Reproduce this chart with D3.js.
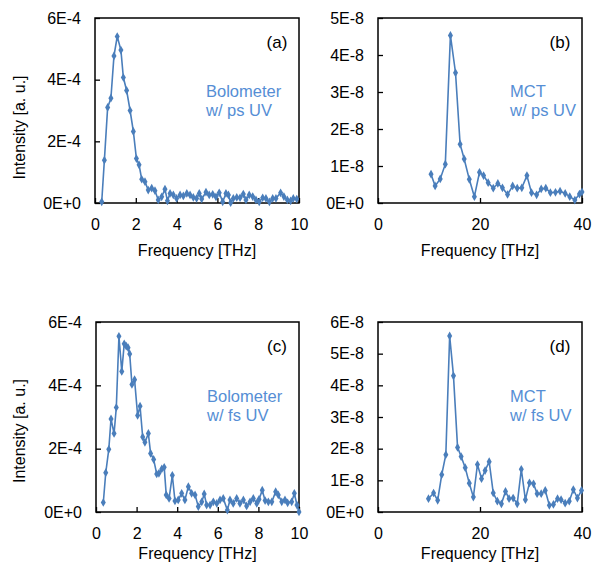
<!DOCTYPE html>
<html>
<head>
<meta charset="utf-8">
<script src="https://cdn.jsdelivr.net/npm/d3@7/dist/d3.min.js"></script>
<style>
  body { margin: 0; background: #fff; }
  svg { display: block; font-family: "Liberation Sans", Arial, sans-serif; }
</style>
</head>
<body>
<div class="canvas"></div>
<script>
// (a) Bolometer w/ ps UV
const freqA = [0.33, 0.46, 0.62, 0.78, 0.93, 1.09, 1.27, 1.39, 1.55, 1.72, 1.88, 2.03, 2.16, 2.29, 2.45, 2.61,
  2.78, 2.94, 3.10, 3.27, 3.43, 3.55, 3.68, 3.84, 4.00, 4.17, 4.33, 4.50, 4.66, 4.82, 4.98, 5.11, 5.23,
  5.44, 5.60, 5.77, 5.93, 6.09, 6.26, 6.42, 6.54, 6.65, 6.78, 6.95, 7.11, 7.27, 7.40, 7.56, 7.73, 7.89,
  8.05, 8.22, 8.38, 8.55, 8.71, 8.87, 9.10, 9.26, 9.43, 9.59, 9.72, 9.89]
const intA = [4e-6, 1.39e-4, 3.10e-4, 3.40e-4, 4.77e-4, 5.40e-4, 4.96e-4, 4.07e-4, 3.65e-4, 3.00e-4, 2.32e-4, 1.44e-4,
  1.24e-4, 7.7e-5, 6.9e-5, 4.2e-5, 4.8e-5, 4.0e-5, 1.0e-5, 2.0e-5, 4.5e-5, 7e-6, 3.1e-5, 2.6e-5, 1.5e-5,
  2.6e-5, 2.3e-5, 3.1e-5, 2.6e-5, 1.8e-5, 1.5e-5, 3.1e-5, 1.3e-5, 3.5e-5, 2.6e-5, 2.8e-5, 2.0e-5, 3.3e-5,
  4e-6, 3.1e-5, 2.6e-5, 1e-6, 1.5e-5, 1.8e-5, 1.7e-5, 2.9e-5, 1.0e-5, 2.6e-5, 2.1e-5, 1.0e-5, 4e-6,
  1.7e-5, 1.5e-5, 4e-6, 1.5e-5, 1.5e-5, 3.3e-5, 2.1e-5, 1.0e-5, 7e-6, 1.5e-5, 1.3e-5]

// (b) MCT w/ ps UV
const freqB = [10.4, 11.2, 12.2, 13.2, 14.2, 15.2, 16.1, 16.9, 17.9, 18.9, 19.9, 20.7, 21.6, 22.6, 23.5, 24.4,
  25.4, 26.4, 27.3, 28.2, 29.2, 30.1, 31.1, 32.0, 32.9, 33.8, 34.8, 35.7, 36.7, 37.6, 38.6, 39.5, 40.0]
const intB = [0.78e-8, 0.46e-8, 0.65e-8, 1.05e-8, 4.53e-8, 3.52e-8, 1.59e-8, 1.19e-8, 0.64e-8, 0.17e-8, 0.83e-8,
  0.74e-8, 0.55e-8, 0.40e-8, 0.53e-8, 0.41e-8, 0.23e-8, 0.46e-8, 0.40e-8, 0.41e-8, 0.74e-8, 0.28e-8,
  0.22e-8, 0.38e-8, 0.40e-8, 0.28e-8, 0.29e-8, 0.32e-8, 0.26e-8, 0.17e-8, 0.08e-8, 0.24e-8, 0.30e-8]

// (c) Bolometer w/ fs UV
const freqC = [0.36, 0.48, 0.63, 0.74, 0.89, 1.00, 1.13, 1.27, 1.39, 1.49, 1.58, 1.66, 1.77, 1.90, 2.05, 2.17,
  2.30, 2.41, 2.58, 2.69, 2.84, 2.99, 3.10, 3.24, 3.36, 3.46, 3.60, 3.76, 3.89, 4.05, 4.22, 4.38, 4.55,
  4.71, 4.88, 5.04, 5.21, 5.33, 5.45, 5.62, 5.78, 5.95, 6.11, 6.27, 6.47, 6.60, 6.76, 6.93, 7.09, 7.26,
  7.42, 7.59, 7.75, 7.92, 8.03, 8.19, 8.33, 8.49, 8.66, 8.85, 8.98, 9.15, 9.31, 9.44, 9.64, 9.77, 9.90, 10.0]
const intC = [3.0e-5, 1.24e-4, 1.98e-4, 2.94e-4, 2.48e-4, 3.30e-4, 5.55e-4, 4.44e-4, 5.31e-4, 5.24e-4, 5.19e-4,
  4.99e-4, 4.03e-4, 4.18e-4, 3.05e-4, 3.34e-4, 2.37e-4, 2.20e-4, 2.48e-4, 1.85e-4, 1.66e-4, 1.20e-4,
  1.22e-4, 1.36e-4, 1.41e-4, 5.4e-5, 4.3e-5, 1.16e-4, 3.5e-5, 3.8e-5, 5.9e-5, 3.8e-5, 8.0e-5, 5.9e-5,
  5.4e-5, 1.7e-5, 3.2e-5, 5.7e-5, 2.2e-5, 2.2e-5, 3.2e-5, 2.7e-5, 3.8e-5, 4.3e-5, 6e-6, 3.8e-5, 2.7e-5,
  4.3e-5, 2.7e-5, 3.8e-5, 1.9e-5, 3.2e-5, 4.3e-5, 2.7e-5, 4.0e-5, 6.9e-5, 3.6e-5, 3.2e-5, 3.2e-5,
  6.4e-5, 5.4e-5, 3.2e-5, 3.8e-5, 2.9e-5, 3.2e-5, 5.9e-5, 2.2e-5, 0]

// (d) MCT w/ fs UV
const freqD = [9.9, 10.9, 11.7, 12.5, 13.3, 14.05, 14.8, 15.6, 16.3, 17.1, 17.9, 18.7, 19.5, 20.3, 21.0, 21.8,
  22.6, 23.4, 24.2, 25.0, 25.7, 26.5, 27.3, 28.1, 28.9, 29.7, 30.5, 31.2, 32.0, 32.8, 33.6, 34.4, 35.2,
  35.9, 36.7, 37.5, 38.3, 39.1, 39.9]
const intD = [0.42e-8, 0.60e-8, 0.37e-8, 1.18e-8, 1.81e-8, 5.56e-8, 4.30e-8, 2.04e-8, 1.75e-8, 1.40e-8, 0.91e-8,
  0.47e-8, 1.50e-8, 1.05e-8, 1.31e-8, 1.59e-8, 0.60e-8, 0.34e-8, 0.26e-8, 0.65e-8, 0.42e-8, 0.44e-8,
  0.26e-8, 1.35e-8, 0.39e-8, 0.92e-8, 0.89e-8, 0.58e-8, 0.58e-8, 0.68e-8, 0.21e-8, 0.24e-8, 0.42e-8,
  0.39e-8, 0.28e-8, 0.34e-8, 0.71e-8, 0.44e-8, 0.68e-8]

// Tick values
const xTicksBolo = [0, 2, 4, 6, 8, 10]
const xTicksMct = [0, 20, 40]
const yTicksA = [0, 2e-4, 4e-4, 6e-4]
const yTicksB = [0, 1e-8, 2e-8, 3e-8, 4e-8, 5e-8]
const yTicksD = [0, 1e-8, 2e-8, 3e-8, 4e-8, 5e-8, 6e-8]

const lineColor = '#4a7ebb'
const textColor = '#558ed5'

const svg = d3.select('.canvas')
  .append('svg')
  .attr('width', 593)
  .attr('height', 569)

// Excel style "6E-4" labels
const sciFormat = v => {
  if (v === 0) return '0E+0'
  const e = Math.floor(Math.log10(v) + 1e-9)
  const m = Math.round(v / Math.pow(10, e))
  return m + 'E' + (e < 0 ? '-' : '+') + Math.abs(e)
}

const drawPanel = (p) => {
  const x = d3.scaleLinear().domain(p.xDomain).range([p.left, p.right])
  const y = d3.scaleLinear().domain(p.yDomain).range([p.bottom, p.top])

  const g = svg.append('g')

  // Axes (ticks inside)
  const xAxis = d3.axisBottom(x).tickValues(p.xTicks).tickSize(-5).tickPadding(16).tickFormat(d3.format('d'))
  const yAxis = d3.axisLeft(y).tickValues(p.yTicks).tickSize(-5).tickPadding(14).tickFormat(sciFormat)

  const xg = g.append('g').attr('transform', `translate(0, ${p.bottom})`).call(xAxis)
  const yg = g.append('g').attr('transform', `translate(${p.left}, 0)`).call(yAxis)
  ;[xg, yg].forEach(a => {
    a.select('.domain').remove()
    a.selectAll('line').attr('stroke', '#000').attr('stroke-width', 1.3)
    a.selectAll('text').attr('fill', '#000').style('font-size', '16px').style('font-family', null)
  })

  // Plot frame
  g.append('rect')
    .attr('x', p.left).attr('y', p.top)
    .attr('width', p.right - p.left).attr('height', p.bottom - p.top)
    .attr('fill', 'none').attr('stroke', '#000').attr('stroke-width', 1.5)

  const pts = p.freq.map((f, i) => [f, p.vals[i]])

  g.append('path')
    .datum(pts)
    .attr('fill', 'none')
    .attr('stroke', lineColor)
    .attr('stroke-width', 1.6)
    .attr('d', d3.line().x(d => x(d[0])).y(d => y(d[1])))

  g.selectAll('.mark')
    .data(pts)
    .enter()
    .append('path')
    .attr('class', 'mark')
    .attr('transform', d => `translate(${x(d[0])}, ${y(d[1])})`)
    .attr('d', d3.symbol().type(d3.symbolDiamond).size(22))
    .attr('fill', lineColor)

  // Panel letter
  g.append('text')
    .attr('x', p.right - 22).attr('y', p.top + 30)
    .attr('text-anchor', 'middle')
    .style('font-size', '17px')
    .text(p.letter)

  // Detector / UV label
  const lab = g.append('text')
    .attr('fill', textColor)
    .style('font-size', '16.5px')
  lab.append('tspan').attr('x', p.labelX).attr('y', p.top + p.labelY).text(p.label1)
  lab.append('tspan').attr('x', p.labelX).attr('y', p.top + p.labelY + 19).text(p.label2)

  // x axis title
  g.append('text')
    .attr('x', (p.left + p.right) / 2).attr('y', p.bottom + p.xTitleGap)
    .attr('text-anchor', 'middle')
    .style('font-size', '16px')
    .text('Frequency [THz]')

  if (p.yTitle) {
    g.append('text')
      .attr('transform', `translate(25, ${(p.top + p.bottom) / 2 + p.yTitleShift}) rotate(-90)`)
      .attr('text-anchor', 'middle')
      .style('font-size', '16px')
      .text('Intensity [a. u.]')
  }
}

drawPanel({ freq: freqA, vals: intA, xDomain: [0, 10], yDomain: [0, 6e-4], xTicks: xTicksBolo, yTicks: yTicksA,
  left: 95, right: 299, top: 18, bottom: 203, letter: '(a)', label1: 'Bolometer', label2: 'w/ ps UV',
  labelX: 206, labelY: 79, yTitle: true, yTitleShift: 17, xTitleGap: 53 })
drawPanel({ freq: freqB, vals: intB, xDomain: [0, 40], yDomain: [0, 5e-8], xTicks: xTicksMct, yTicks: yTicksB,
  left: 378, right: 582, top: 18, bottom: 203, letter: '(b)', label1: 'MCT', label2: 'w/ ps UV',
  labelX: 510, labelY: 79, yTitle: false, xTitleGap: 53 })
drawPanel({ freq: freqC, vals: intC, xDomain: [0, 10], yDomain: [0, 6e-4], xTicks: xTicksBolo, yTicks: yTicksA,
  left: 96, right: 299, top: 322, bottom: 512, letter: '(c)', label1: 'Bolometer', label2: 'w/ fs UV',
  labelX: 207, labelY: 80, yTitle: true, yTitleShift: 14, xTitleGap: 47 })
drawPanel({ freq: freqD, vals: intD, xDomain: [0, 40], yDomain: [0, 6e-8], xTicks: xTicksMct, yTicks: yTicksD,
  left: 378, right: 582, top: 322, bottom: 512, letter: '(d)', label1: 'MCT', label2: 'w/ fs UV',
  labelX: 510, labelY: 80, yTitle: false, xTitleGap: 47 })
</script>
</body>
</html>
